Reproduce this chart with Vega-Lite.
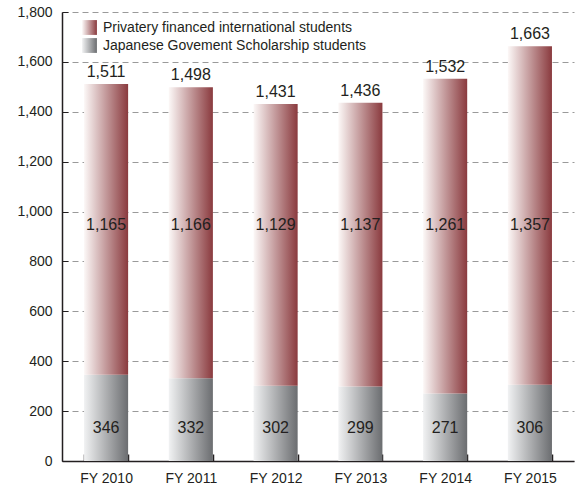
{
  "$schema": "https://vega.github.io/schema/vega-lite/v6.json",
  "width": 512,
  "height": 449,
  "autosize": {"type": "none"},
  "padding": {"left": 62, "top": 12, "right": 1, "bottom": 28},
  "background": "white",
  "config": {
    "font": "Liberation Sans",
    "view": {"stroke": null},
    "text": {"font": "Liberation Sans", "color": "#231f20"},
    "legend": {
      "symbolType": "square",
      "symbolSize": 220,
      "symbolStrokeWidth": 0,
      "labelFontSize": 14,
      "labelLimit": 0,
      "labelColor": "#231f20",
      "labelOffset": 6
    }
  },
  "datasets": {
    "bars": [
      {"year": "FY 2010", "type": "Privatery financed international students", "ord": 2, "value": 1165},
      {"year": "FY 2011", "type": "Privatery financed international students", "ord": 2, "value": 1166},
      {"year": "FY 2012", "type": "Privatery financed international students", "ord": 2, "value": 1129},
      {"year": "FY 2013", "type": "Privatery financed international students", "ord": 2, "value": 1137},
      {"year": "FY 2014", "type": "Privatery financed international students", "ord": 2, "value": 1261},
      {"year": "FY 2015", "type": "Privatery financed international students", "ord": 2, "value": 1357},
      {"year": "FY 2010", "type": "Japanese Govement Scholarship students", "ord": 1, "value": 346},
      {"year": "FY 2011", "type": "Japanese Govement Scholarship students", "ord": 1, "value": 332},
      {"year": "FY 2012", "type": "Japanese Govement Scholarship students", "ord": 1, "value": 302},
      {"year": "FY 2013", "type": "Japanese Govement Scholarship students", "ord": 1, "value": 299},
      {"year": "FY 2014", "type": "Japanese Govement Scholarship students", "ord": 1, "value": 271},
      {"year": "FY 2015", "type": "Japanese Govement Scholarship students", "ord": 1, "value": 306}
    ],
    "totals": [
      {"year": "FY 2010", "total": 1511},
      {"year": "FY 2011", "total": 1498},
      {"year": "FY 2012", "total": 1431},
      {"year": "FY 2013", "total": 1436},
      {"year": "FY 2014", "total": 1532},
      {"year": "FY 2015", "total": 1663}
    ]
  },
  "encoding": {
    "x": {
      "field": "year",
      "type": "nominal",
      "scale": {"paddingInner": 0.48, "paddingOuter": 0.26},
      "axis": {
        "title": null,
        "labelAngle": 0,
        "labelFontSize": 14,
        "labelColor": "#231f20",
        "labelPadding": 17,
        "domainColor": "#231f20",
        "domainWidth": 1.5,
        "tickColor": "#231f20",
        "tickWidth": 1.5,
        "tickSize": -7,
        "tickBand": "extent",
        "grid": false
      }
    }
  },
  "layer": [
    {
      "data": {"name": "bars"},
      "transform": [{"filter": "datum.ord === 1"}],
      "mark": {
        "type": "bar",
        "strokeWidth": 0,
        "color": {"gradient": "linear", "x1": 0, "y1": 0, "x2": 1, "y2": 0, "stops": [{"offset": 0, "color": "#f1f2f3"}, {"offset": 1, "color": "#6b6d70"}]}
      },
      "encoding": {
        "y": {
          "field": "value",
          "type": "quantitative",
          "title": null,
          "scale": {"domain": [0, 1800], "nice": false},
          "axis": {
            "title": null,
            "values": [0, 200, 400, 600, 800, 1000, 1200, 1400, 1600, 1800],
            "format": ",d",
            "labelFontSize": 14,
            "labelColor": "#231f20",
            "labelPadding": 16,
            "domainColor": "#231f20",
            "domainWidth": 1.5,
            "tickColor": "#231f20",
            "tickWidth": 1,
            "tickSize": -6,
            "grid": true,
            "gridColor": "#9a9a9a",
            "gridDash": [6, 4],
            "gridWidth": 1
          }
        },
        "stroke": {
          "field": "type",
          "type": "nominal",
          "scale": {"domain": ["Japanese Govement Scholarship students"], "range": ["#6b6d70"]},
          "legend": {
            "title": null,
            "orient": "none",
            "legendX": 20,
            "legendY": 26,
            "encode": {
              "symbols": {
                "update": {
                  "fill": {"value": {"gradient": "linear", "x1": 0, "y1": 0, "x2": 1, "y2": 0, "stops": [{"offset": 0, "color": "#f1f2f3"}, {"offset": 1, "color": "#6b6d70"}]}},
                  "fillOpacity": {"value": 1},
                  "strokeWidth": {"value": 0}
                }
              }
            }
          }
        }
      }
    },
    {
      "data": {"name": "bars"},
      "transform": [
        {"stack": "value", "groupby": ["year"], "sort": [{"field": "ord", "order": "ascending"}], "as": ["v0", "v1"]},
        {"filter": "datum.ord === 2"}
      ],
      "mark": {
        "type": "bar",
        "strokeWidth": 0,
        "color": {"gradient": "linear", "x1": 0, "y1": 0, "x2": 1, "y2": 0, "stops": [{"offset": 0, "color": "#fcf8f7"}, {"offset": 1, "color": "#8a3a3e"}]}
      },
      "encoding": {
        "y": {"field": "v1", "type": "quantitative", "title": null},
        "y2": {"field": "v0"},
        "stroke": {
          "field": "type",
          "type": "nominal",
          "scale": {"domain": ["Privatery financed international students"], "range": ["#8a3a3e"]},
          "legend": {
            "title": null,
            "orient": "none",
            "legendX": 20,
            "legendY": 8,
            "encode": {
              "symbols": {
                "update": {
                  "fill": {"value": {"gradient": "linear", "x1": 0, "y1": 0, "x2": 1, "y2": 0, "stops": [{"offset": 0, "color": "#fcf8f7"}, {"offset": 1, "color": "#8a3a3e"}]}},
                  "fillOpacity": {"value": 1},
                  "strokeWidth": {"value": 0}
                }
              }
            }
          }
        }
      }
    },
    {
      "data": {"name": "bars"},
      "transform": [{"filter": "datum.ord === 2"}],
      "mark": {"type": "text", "fontSize": 16, "baseline": "middle", "align": "center"},
      "encoding": {
        "y": {"datum": 946, "type": "quantitative"},
        "text": {"field": "value", "type": "quantitative", "format": ",d"}
      }
    },
    {
      "data": {"name": "bars"},
      "transform": [{"filter": "datum.ord === 1"}],
      "mark": {"type": "text", "fontSize": 16, "baseline": "middle", "align": "center"},
      "encoding": {
        "y": {"datum": 134, "type": "quantitative"},
        "text": {"field": "value", "type": "quantitative", "format": ",d"}
      }
    },
    {
      "data": {"name": "totals"},
      "mark": {"type": "text", "fontSize": 16, "baseline": "alphabetic", "align": "center", "dy": -7},
      "encoding": {
        "y": {"field": "total", "type": "quantitative"},
        "text": {"field": "total", "type": "quantitative", "format": ",d"}
      }
    }
  ],
  "resolve": {"scale": {"stroke": "independent"}, "legend": {"stroke": "independent"}}
}
